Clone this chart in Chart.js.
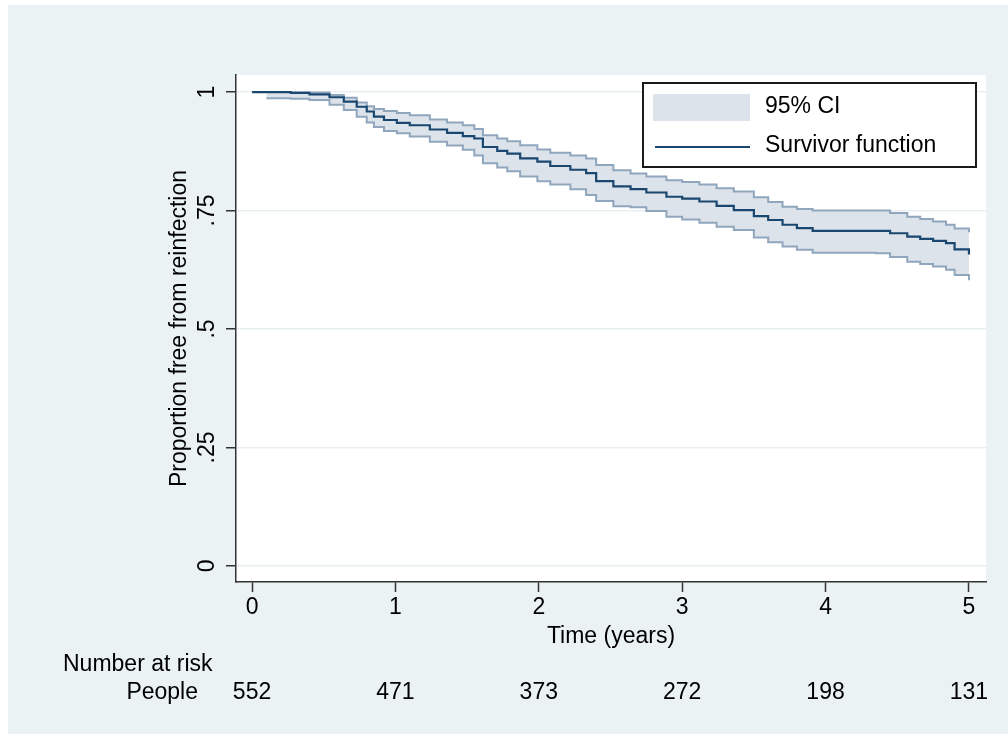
<!DOCTYPE html>
<html lang="en">
<head>
  <meta charset="UTF-8" />
  <title>Proportion free from reinfection</title>
  <script src="https://cdn.jsdelivr.net/npm/chart.js"></script>
  <style>
    body { margin: 0; background: #fff; }
    .frame { position: absolute; left: 8px; top: 5px; width: 1000px; height: 729px; background: #eaf2f3; }
  </style>
</head>
<body>
  <div class="frame"><canvas id="km" width="1000" height="729"></canvas></div>

  <script>
    // Kaplan-Meier estimate (time in years)
    const survTimes  = [0, 0.1, 0.27, 0.4, 0.54, 0.64, 0.73, 0.8, 0.85, 0.92, 1.01, 1.1, 1.24, 1.36, 1.47, 1.55, 1.61, 1.71, 1.78, 1.87, 1.99, 2.08, 2.22, 2.33, 2.4, 2.52, 2.64, 2.75, 2.89, 3.0, 3.12, 3.24, 3.36, 3.5, 3.6, 3.7, 3.8, 3.91, 4.35, 4.45, 4.57, 4.66, 4.75, 4.84, 4.9, 5.0];
    const survValues = [1, 1, 0.998, 0.995, 0.989, 0.980, 0.969, 0.959, 0.948, 0.941, 0.935, 0.930, 0.921, 0.914, 0.907, 0.902, 0.884, 0.876, 0.870, 0.860, 0.853, 0.844, 0.836, 0.829, 0.812, 0.801, 0.795, 0.788, 0.779, 0.775, 0.769, 0.760, 0.751, 0.738, 0.730, 0.720, 0.713, 0.707, 0.707, 0.702, 0.695, 0.690, 0.686, 0.681, 0.668, 0.657];

    // 95% confidence band
    const ciTimes = [0.1, 0.27, 0.4, 0.54, 0.64, 0.73, 0.8, 0.85, 0.92, 1.01, 1.1, 1.24, 1.36, 1.47, 1.55, 1.61, 1.71, 1.78, 1.87, 1.99, 2.08, 2.22, 2.33, 2.4, 2.52, 2.64, 2.75, 2.89, 3.0, 3.12, 3.24, 3.36, 3.5, 3.6, 3.7, 3.8, 3.91, 4.35, 4.45, 4.57, 4.66, 4.75, 4.84, 4.9, 5.0];
    const ciUpper = [1, 1, 0.999, 0.994, 0.988, 0.978, 0.970, 0.964, 0.960, 0.956, 0.951, 0.942, 0.936, 0.930, 0.922, 0.909, 0.902, 0.896, 0.888, 0.879, 0.872, 0.866, 0.860, 0.846, 0.835, 0.828, 0.822, 0.814, 0.810, 0.805, 0.797, 0.790, 0.778, 0.768, 0.758, 0.753, 0.750, 0.750, 0.745, 0.737, 0.732, 0.727, 0.720, 0.712, 0.704];
    const ciLower = [0.987, 0.986, 0.983, 0.973, 0.962, 0.948, 0.936, 0.926, 0.918, 0.913, 0.906, 0.895, 0.887, 0.878, 0.866, 0.850, 0.841, 0.833, 0.822, 0.812, 0.805, 0.795, 0.783, 0.770, 0.759, 0.757, 0.749, 0.737, 0.731, 0.724, 0.716, 0.709, 0.693, 0.683, 0.674, 0.667, 0.661, 0.660, 0.652, 0.642, 0.637, 0.632, 0.625, 0.614, 0.603];

    const xTicks = [0, 1, 2, 3, 4, 5];
    const yTicks = [0, 0.25, 0.5, 0.75, 1];
    const yTickLabels = ['0', '.25', '.5', '.75', '1'];

    // number at risk table
    const riskTimes = [0, 1, 2, 3, 4, 5];
    const riskPeople = [552, 471, 373, 272, 198, 131];

    const FONT = '"Liberation Sans", Arial, Helvetica, sans-serif';
    const NAVY = '#1a476f';
    const CI_LINE = '#90a6bd';
    const CI_FILL = '#dde3ea';
    const AXIS = '#333333';

    const toXY = (xs, ys) => xs.map((x, i) => ({ x, y: ys[i] }));

    // white plot region
    const plotBg = {
      id: 'plotBg',
      beforeDraw(chart) {
        const { ctx, chartArea: a } = chart;
        ctx.save();
        ctx.fillStyle = '#fff';
        ctx.fillRect(a.left, a.top, a.right - a.left, a.bottom - a.top);
        ctx.restore();
      }
    };

    // boxed legend in the top right corner of the plot
    const legendBox = {
      id: 'legendBox',
      afterDraw(chart) {
        const { ctx, chartArea: a } = chart;
        const w = 333, h = 84;
        const x = a.right - 10 - w, y = a.top + 8;
        ctx.save();
        ctx.fillStyle = '#fff';
        ctx.fillRect(x, y, w, h);
        ctx.strokeStyle = '#1a1a1a';
        ctx.lineWidth = 2;
        ctx.strokeRect(x, y, w, h);
        ctx.fillStyle = CI_FILL;
        ctx.fillRect(x + 10, y + 11, 97, 27);
        ctx.strokeStyle = NAVY;
        ctx.lineWidth = 2;
        ctx.beginPath();
        ctx.moveTo(x + 12, y + 64);
        ctx.lineTo(x + 107, y + 64);
        ctx.stroke();
        ctx.fillStyle = '#000';
        ctx.font = '23px ' + FONT;
        ctx.textBaseline = 'middle';
        ctx.textAlign = 'left';
        ctx.fillText('95% CI', x + 122, y + 24);
        ctx.fillText('Survivor function', x + 122, y + 63);
        ctx.restore();
      }
    };

    // number at risk below the axis
    const riskTable = {
      id: 'riskTable',
      afterDraw(chart) {
        const { ctx } = chart;
        const xs = chart.scales.x;
        ctx.save();
        ctx.fillStyle = '#000';
        ctx.font = '23px ' + FONT;
        ctx.textBaseline = 'middle';
        ctx.textAlign = 'left';
        ctx.fillText('Number at risk', 55, 660);
        ctx.textAlign = 'right';
        ctx.fillText('People', 190, 688);
        ctx.textAlign = 'center';
        riskTimes.forEach((t, i) => ctx.fillText(String(riskPeople[i]), xs.getPixelForValue(t), 688));
        ctx.restore();
      }
    };

    new Chart(document.getElementById('km'), {
      type: 'line',
      data: {
        datasets: [
          { label: 'Upper', data: toXY(ciTimes, ciUpper), stepped: true, borderColor: CI_LINE, borderWidth: 2,
            backgroundColor: CI_FILL, fill: '+1', pointRadius: 0, order: 2 },
          { label: 'Lower', data: toXY(ciTimes, ciLower), stepped: true, borderColor: CI_LINE, borderWidth: 2,
            fill: false, pointRadius: 0, order: 1 },
          { label: 'Survivor function', data: toXY(survTimes, survValues), stepped: true, borderColor: NAVY,
            borderWidth: 2.2, fill: false, pointRadius: 0, order: 0 }
        ]
      },
      options: {
        responsive: false,
        animation: false,
        layout: { padding: { left: 0, top: 70, right: 22, bottom: 0 } },
        plugins: { legend: { display: false }, tooltip: { enabled: false } },
        scales: {
          x: {
            type: 'linear',
            min: -0.112, max: 5.119,
            afterBuildTicks: s => { s.ticks = xTicks.map(v => ({ value: v })); },
            afterFit: s => { s.height = 152; },
            grid: { drawOnChartArea: false, tickLength: 10, tickColor: AXIS, tickWidth: 1.5 },
            border: { color: AXIS, width: 1.5 },
            ticks: { color: '#000', padding: 2, font: { family: FONT, size: 23 }, maxRotation: 0 },
            title: { display: true, text: 'Time (years)', color: '#000', font: { family: FONT, size: 23 },
              padding: { top: 0, bottom: 84 } }
          },
          y: {
            min: -0.034, max: 1.036,
            afterBuildTicks: s => { s.ticks = yTicks.map(v => ({ value: v })); },
            afterFit: s => { s.width = 228; },
            grid: { color: '#e8eff2', lineWidth: 1.5, tickLength: 10, tickColor: AXIS, tickWidth: 1.5 },
            border: { color: AXIS, width: 1.5 },
            ticks: {
              color: '#000', padding: 2, crossAlign: 'center', minRotation: 90, maxRotation: 90,
              font: { family: FONT, size: 23 },
              callback: v => yTickLabels[yTicks.indexOf(v)]
            },
            title: { display: true, text: 'Proportion free from reinfection', color: '#000',
              font: { family: FONT, size: 23 }, padding: { top: 158, bottom: 0 } }
          }
        }
      },
      plugins: [plotBg, legendBox, riskTable]
    });
  </script>
</body>
</html>
